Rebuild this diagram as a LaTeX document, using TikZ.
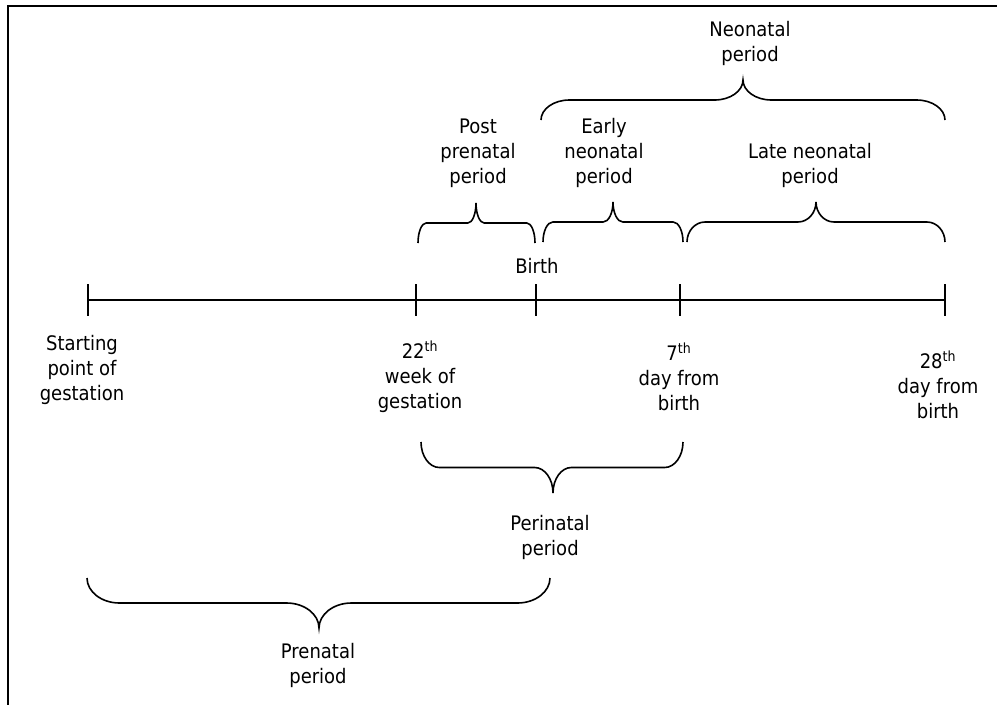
\documentclass[tikz,border=0pt]{standalone}
\usepackage{fontspec}
\setmainfont{DejaVu Sans}[FakeStretch=0.9]
\usepackage{tikz}
\usetikzlibrary{positioning, calc}

% curly brace: left x, right x, tip x, ends y, half height, direction (1 down, -1 up)
\newcommand{\periodbrace}[6]{%
  \pgfmathsetmacro{\bw}{0.07*(#2-#1)}%
  \pgfmathsetmacro{\ymid}{#4+(#6)*#5}%
  \pgfmathsetmacro{\ytip}{#4+2*(#6)*#5}%
  \pgfmathsetmacro{\yend}{#4+0.55*(#6)*#5}%
  \pgfmathsetmacro{\ynear}{#4+1.45*(#6)*#5}%
  \draw[bracepen] (#1,#4) .. controls (#1,\yend) and ({#1+0.45*\bw},\ymid) .. ({#1+\bw},\ymid)
    -- ({#3-\bw},\ymid) .. controls ({#3-0.45*\bw},\ymid) and (#3,\ynear) .. (#3,\ytip)
    .. controls (#3,\ynear) and ({#3+0.45*\bw},\ymid) .. ({#3+\bw},\ymid)
    -- ({#2-\bw},\ymid) .. controls ({#2-0.45*\bw},\ymid) and (#2,\yend) .. (#2,#4);}

\begin{document}
\begin{tikzpicture}[
    x=0.75pt, y=-0.75pt,
    lbl/.style={align=center, inner sep=0pt, font=\fontsize{15}{18.75}\selectfont},
    axis/.style={line width=1.3pt},
    bracepen/.style={line width=1.2pt},
    frame/.style={line width=1.2pt}
]
\useasboundingbox (0,0) rectangle (997,704);
\draw[frame] (8,6) rectangle (1012,720);

% Time line
\coordinate (t_start) at (88,300);
\coordinate (t_w22) at (416,300);
\coordinate (t_birth) at (536,300);
\coordinate (t_d7) at (680,300);
\coordinate (t_d28) at (945,300);

\draw[axis] (t_start) -- (t_d28);
\foreach \t in {t_start, t_w22, t_birth, t_d7, t_d28}
    \draw[axis] ([yshift=12pt]\t) -- ([yshift=-12pt]\t);

% Points on the time line
\node[lbl] (birth_txt) at (537,266) {Birth};
\node[lbl] (start_txt) at (82,370) {Starting\\point of\\gestation};
\node[lbl] (w22_txt) at (420,377) {22\textsuperscript{th}\\week of\\gestation};
\node[lbl] (d7_txt) at (679,377) {7\textsuperscript{th}\\day from\\birth};
\node[lbl] (d28_txt) at (938,385) {28\textsuperscript{th}\\day from\\birth};

% Periods above the line
\periodbrace{418}{535}{476}{243}{20}{-1}
\node[lbl] (post_txt) at (478,153) {Post\\prenatal\\period};

\periodbrace{543}{683}{613}{242}{20}{-1}
\node[lbl] (early_txt) at (604,153) {Early\\neonatal\\period};

\periodbrace{687}{945}{816}{242}{20}{-1}
\node[lbl] (late_txt) at (810,165) {Late neonatal\\period};

\periodbrace{541}{945}{743}{120}{20}{-1}
\node[lbl] (neo_txt) at (750,43) {Neonatal\\period};

% Periods below the line
\periodbrace{421}{683}{553}{442}{25.5}{1}
\node[lbl] (peri_txt) at (550,537) {Perinatal\\period};

\periodbrace{87}{550}{319}{578}{25}{1}
\node[lbl] (pre_txt) at (318,665) {Prenatal\\period};

\end{tikzpicture}
\end{document}
